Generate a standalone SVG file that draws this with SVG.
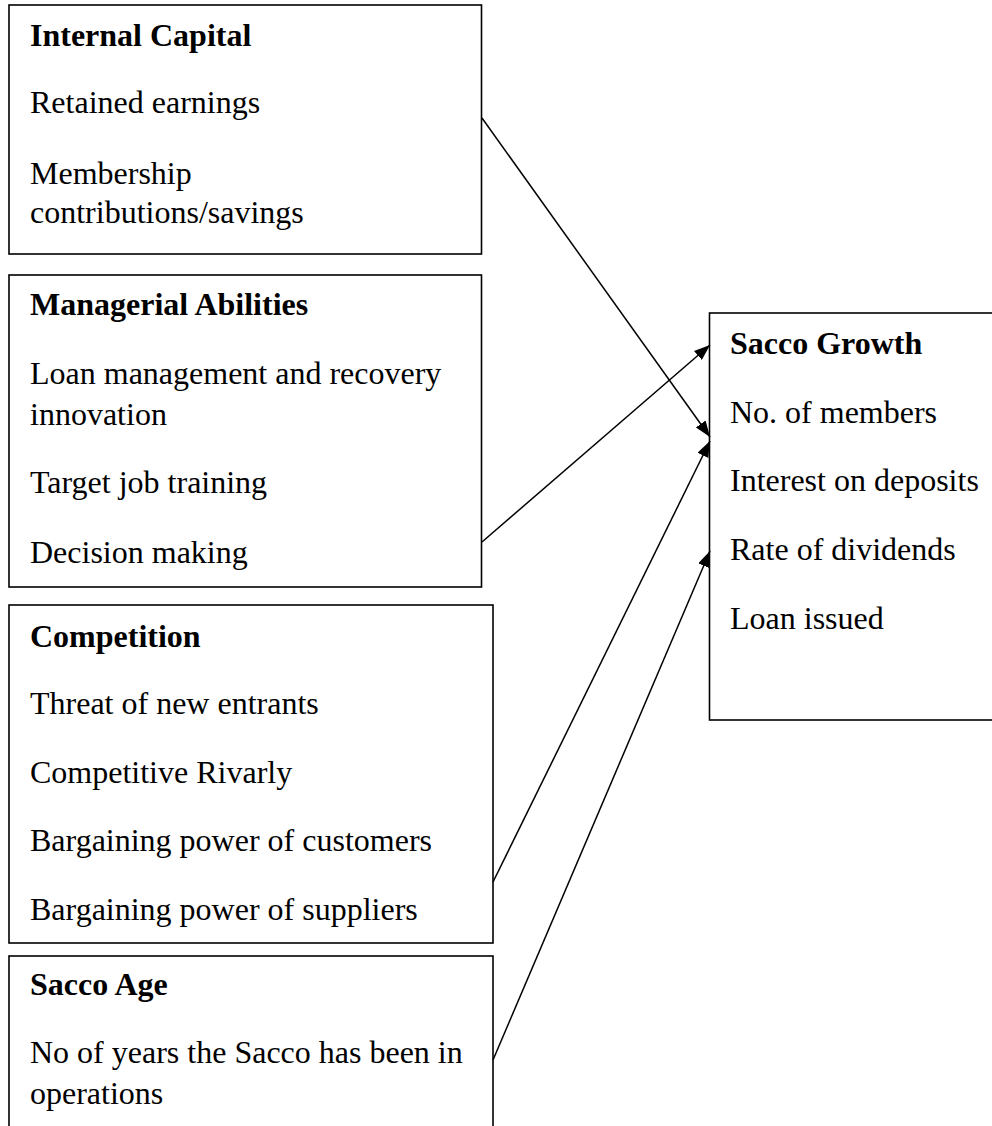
<svg xmlns="http://www.w3.org/2000/svg" width="992" height="1126" viewBox="0 0 992 1126">
<style>
.box{fill:#fff;stroke:#000;stroke-width:1.6}
.t{font-family:"Liberation Serif","Times New Roman",serif;font-size:32px;fill:#000}
.h{font-weight:bold}
.c{stroke:#000;stroke-width:1.5;fill:none;marker-end:url(#ah)}
</style>
<defs>
<marker id="ah" markerUnits="userSpaceOnUse" markerWidth="16" markerHeight="12" refX="16" refY="6" orient="auto">
<path d="M0,0 L16,6 L0,12 z" fill="#000"/>
</marker>
</defs>
<rect width="992" height="1126" fill="#fff"/>
<g id="internal-capital">
<rect class="box" x="9" y="5" width="472.5" height="249"/>
<text class="t h" x="30" y="46">Internal Capital</text>
<text class="t" x="30" y="113">Retained earnings</text>
<text class="t" x="30" y="184">Membership</text>
<text class="t" x="30" y="223">contributions/savings</text>
</g>
<g id="managerial-abilities">
<rect class="box" x="9" y="275" width="472.5" height="312"/>
<text class="t h" x="30" y="315">Managerial Abilities</text>
<text class="t" x="30" y="384">Loan management and recovery</text>
<text class="t" x="30" y="425">innovation</text>
<text class="t" x="30" y="493">Target job training</text>
<text class="t" x="30" y="563">Decision making</text>
</g>
<g id="competition">
<rect class="box" x="9" y="605" width="484" height="338"/>
<text class="t h" x="30" y="647">Competition</text>
<text class="t" x="30" y="714">Threat of new entrants</text>
<text class="t" x="30" y="783">Competitive Rivarly</text>
<text class="t" x="30" y="851">Bargaining power of customers</text>
<text class="t" x="30" y="920">Bargaining power of suppliers</text>
</g>
<g id="sacco-age">
<rect class="box" x="9" y="956" width="484" height="200"/>
<text class="t h" x="30" y="995">Sacco Age</text>
<text class="t" x="30" y="1063">No of years the Sacco has been in</text>
<text class="t" x="30" y="1104">operations</text>
</g>
<g id="sacco-growth">
<rect class="box" x="709.5" y="313" width="300" height="407"/>
<text class="t h" x="730" y="354">Sacco Growth</text>
<text class="t" x="730" y="423">No. of members</text>
<text class="t" x="730" y="491">Interest on deposits</text>
<text class="t" x="730" y="560">Rate of dividends</text>
<text class="t" x="730" y="629">Loan issued</text>
</g>
<g id="connectors">
<line class="c" x1="482" y1="118" x2="710" y2="437"/>
<line class="c" x1="482" y1="542" x2="710" y2="345"/>
<line class="c" x1="493" y1="882" x2="710" y2="441"/>
<line class="c" x1="493" y1="1060" x2="710" y2="551"/>
</g>
</svg>
